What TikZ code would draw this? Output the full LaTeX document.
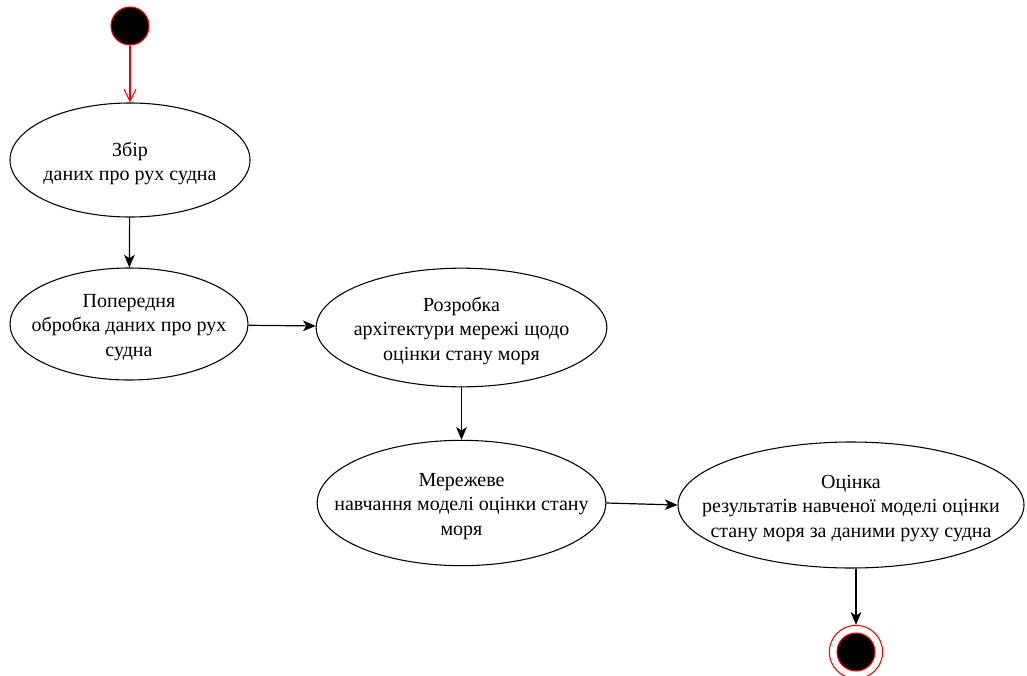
\documentclass[tikz,border=0pt]{standalone}
\usepackage{fontspec}
\setmainfont{Liberation Serif}
\usetikzlibrary{shapes.geometric,arrows.meta}
\begin{document}
\begin{tikzpicture}[x=0.75pt,y=-0.75pt,
  act/.style={ellipse,draw=black,line width=0.8pt,inner sep=0pt},
  txt/.style={inner sep=0pt,align=center,yshift=-2.5pt,font=\fontsize{15}{18.5}\selectfont},
  flow/.style={draw=black,line width=0.9pt,-{Stealth[length=9.5pt,width=8pt,inset=2.5pt]}},
  startflow/.style={draw=red,line width=0.8pt,-{Straight Barb[length=9pt,width=9pt]}}]
\useasboundingbox (0,0) rectangle (1027,675);
\node[circle,fill=black,draw=red,line width=0.8pt,minimum size=28.5pt,inner sep=0pt] (start) at (130,26) {};
\node[act,minimum width=180pt,minimum height=85.5pt] (e1) at (130,160) {};
\node[txt] (e1t) at (e1) {Збір\\даних про рух судна};
\node[act,minimum width=178.5pt,minimum height=84pt] (e2) at (129,324) {};
\node[txt] (e2t) at (e2) {Попередня\\обробка даних про рух\\судна};
\node[act,minimum width=218pt,minimum height=89pt] (e3) at (461.5,327.5) {};
\node[txt] (e3t) at (e3) {Розробка\\архітектури мережі щодо\\оцінки стану моря};
\node[act,minimum width=216.5pt,minimum height=94pt] (e4) at (461.5,503) {};
\node[txt] (e4t) at (e4) {Мережеве\\навчання моделі оцінки стану\\моря};
\node[act,minimum width=259.5pt,minimum height=94.5pt] (e5) at (851,505) {};
\node[txt] (e5t) at (e5) {Оцінка\\результатів навченої моделі оцінки\\стану моря за даними руху судна};
\node[circle,draw=red,line width=0.8pt,minimum size=40pt,inner sep=0pt] (end) at (856,652) {};
\node[circle,fill=black,draw=red,line width=0.8pt,minimum size=28.5pt,inner sep=0pt] (endin) at (856,652) {};
\draw[startflow] (start) -- (e1);
\draw[flow] (e1) -- (e2);
\draw[flow] (e2) -- (e3);
\draw[flow] (e3) -- (e4);
\draw[flow] (e4.east) -- (e5.west);
\draw[flow] (e5.south -| end) -- (end.north);
\end{tikzpicture}
\end{document}
